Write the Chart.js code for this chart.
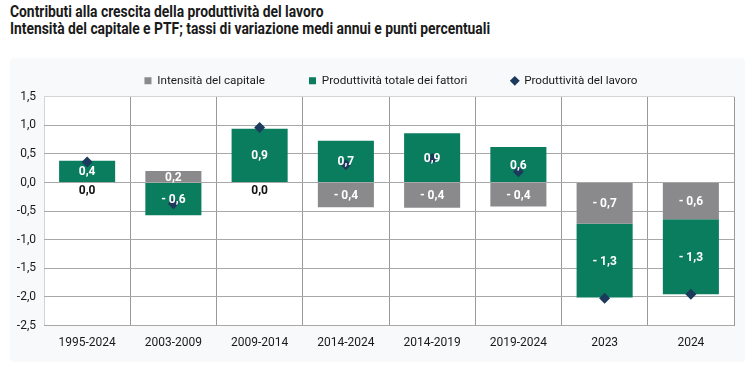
<!DOCTYPE html>
<html>
<head>
<meta charset="utf-8">
<script src="https://cdn.jsdelivr.net/npm/chart.js@4.4.1/dist/chart.umd.min.js"></script>
<style>
  html, body { margin: 0; padding: 0; background: #fff; }
  #wrap { position: relative; width: 750px; height: 377px; overflow: hidden; }
  #panel { position: absolute; left: 10px; top: 58px; width: 735px; height: 304px; background: #f7f9fb; border-radius: 4px; }
  #titolo { position: absolute; left: 10px; top: 3px; font-family: "Roboto", sans-serif; font-weight: bold; font-size: 16px; line-height: 17px; color: #1a1a1a; transform: scaleX(0.865); transform-origin: 0 0; white-space: nowrap; }
  canvas { position: absolute; left: 0; top: 0; }
</style>
</head>
<body>
<div id="wrap">
  <div id="panel"></div>
  <div id="titolo">Contributi alla crescita della produttività del lavoro<br>Intensità del capitale e PTF; tassi di variazione medi annui e punti percentuali</div>
  <canvas id="grafico" width="750" height="377"></canvas>
</div>
<script>
// Periodi e valori
const periodi = ['1995-2024', '2003-2009', '2009-2014', '2014-2024', '2014-2019', '2019-2024', '2023', '2024'];
const intensitaCapitale = [0.0, 0.2, 0.0, -0.43, -0.44, -0.42, -0.72, -0.64];
const ptf = [0.38, -0.57, 0.94, 0.73, 0.86, 0.62, -1.29, -1.31];
const produttivitaLavoro = [0.36, -0.37, 0.96, 0.31, 0.42, 0.19, -2.02, -1.95];

const FONT = '"Roboto", sans-serif';

function formatta(v) {
    const s = Math.abs(v).toFixed(1).replace('.', ',');
    return v < 0 ? '- ' + s : s;
}

// Sfondo bianco dell'area del grafico
const sfondoArea = {
    id: 'sfondoArea',
    beforeDraw(chart) {
        const a = chart.chartArea;
        const ctx = chart.ctx;
        ctx.save();
        ctx.fillStyle = '#ffffff';
        ctx.fillRect(a.left, a.top, a.right - a.left, a.bottom - a.top);
        ctx.restore();
    }
};

// Legenda un po' spostata a destra come nell'originale
const spostaLegenda = {
    id: 'spostaLegenda',
    afterLayout(chart) {
        if (chart.legend) {
            chart.legend.left += 19;
            chart.legend.right += 19;
        }
    }
};

// Etichette dei valori sulle barre
const etichette = {
    id: 'etichette',
    afterDatasetsDraw(chart) {
        const ctx = chart.ctx;
        ctx.save();
        ctx.font = 'bold 12px ' + FONT;
        ctx.textAlign = 'center';
        ctx.textBaseline = 'middle';
        [0, 1].forEach(i => {
            const meta = chart.getDatasetMeta(i);
            const dati = chart.data.datasets[i].data;
            meta.data.forEach((bar, j) => {
                const v = dati[j];
                if (v === 0) {
                    ctx.fillStyle = '#111';
                    ctx.fillText('0,0', bar.x, bar.base + 8);
                } else {
                    ctx.fillStyle = '#ffffff';
                    ctx.fillText(formatta(v), bar.x, (bar.y + bar.base) / 2 + 1);
                }
            });
        });
        ctx.restore();
    }
};

const ctx = document.getElementById('grafico').getContext('2d');

new Chart(ctx, {
    type: 'bar',
    data: {
        labels: periodi,
        datasets: [
            {
                label: 'Intensità del capitale',
                data: intensitaCapitale,
                backgroundColor: '#8a8a8c',
                pointStyle: 'rect',
                categoryPercentage: 1,
                barPercentage: 0.65,
                order: 1
            },
            {
                label: 'Produttività totale dei fattori',
                data: ptf,
                backgroundColor: '#0b7d5f',
                pointStyle: 'rect',
                categoryPercentage: 1,
                barPercentage: 0.65,
                order: 1
            },
            {
                type: 'line',
                label: 'Produttività del lavoro',
                data: produttivitaLavoro,
                showLine: false,
                stack: 'lavoro',
                pointStyle: 'rectRot',
                pointRadius: 5.5,
                pointHoverRadius: 5.5,
                backgroundColor: '#1b3a5c',
                borderColor: '#1b3a5c',
                borderWidth: 0,
                order: 0
            }
        ]
    },
    options: {
        responsive: false,
        animation: false,
        layout: { padding: { top: 31, left: 10, right: 16, bottom: 17 } },
        plugins: {
            tooltip: { enabled: false },
            legend: {
                display: true,
                position: 'top',
                labels: {
                    usePointStyle: true,
                    boxWidth: 7,
                    boxHeight: 7,
                    padding: 44,
                    color: '#1a1a1a',
                    font: { family: FONT, size: 11.7 },
                    sort: (a, b) => a.datasetIndex - b.datasetIndex
                }
            }
        },
        scales: {
            x: {
                stacked: true,
                offset: true,
                grid: {
                    offset: true,
                    color: ctx => (ctx.index === 0 || ctx.index === periodi.length) ? '#d4d4d4' : '#9a9a9a',
                    drawTicks: false
                },
                border: { display: false },
                ticks: { color: '#1a1a1a', padding: 10, font: { family: FONT, size: 12 } }
            },
            y: {
                stacked: true,
                min: -2.5,
                max: 1.5,
                afterFit(scale) { scale.width = 34; },
                grid: {
                    color: ctx => ctx.tick && ctx.tick.value === 1.5 ? '#d4d4d4' : '#a8a8a8',
                    drawTicks: false
                },
                border: { display: false },
                ticks: {
                    stepSize: 0.5,
                    padding: 8,
                    color: '#1a1a1a',
                    font: { family: FONT, size: 12 },
                    callback: v => v.toFixed(1).replace('.', ',')
                }
            }
        }
    },
    plugins: [sfondoArea, spostaLegenda, etichette]
});
</script>
</body>
</html>
